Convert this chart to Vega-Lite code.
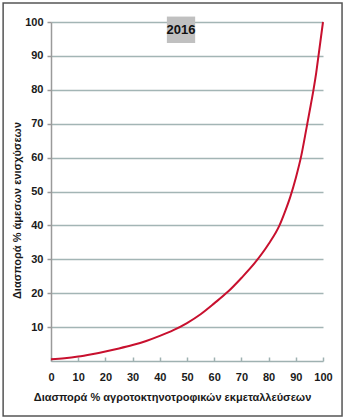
{
  "$schema": "https://vega.github.io/schema/vega-lite/v6.json",
  "width": 272,
  "height": 339,
  "autosize": {"type": "none"},
  "padding": {"left": 51, "top": 22, "right": 22, "bottom": 59},
  "background": "white",
  "config": {
    "view": {"stroke": null},
    "font": "Liberation Sans",
    "axis": {"labelOverlap": false, "labelFlush": false}
  },
  "datasets": {
    "curve": [
      {"x": 0, "y": 0.5}, {"x": 5, "y": 0.8}, {"x": 10, "y": 1.3}, {"x": 15, "y": 2.0},
      {"x": 20, "y": 2.8}, {"x": 25, "y": 3.7}, {"x": 30, "y": 4.7}, {"x": 35, "y": 5.9},
      {"x": 40, "y": 7.4}, {"x": 45, "y": 9.1}, {"x": 50, "y": 11.2}, {"x": 55, "y": 13.8},
      {"x": 60, "y": 17.0}, {"x": 65, "y": 20.4}, {"x": 70, "y": 24.5}, {"x": 75, "y": 29.0},
      {"x": 80, "y": 34.5}, {"x": 84, "y": 40.0}, {"x": 86, "y": 44.0}, {"x": 88, "y": 48.5},
      {"x": 90, "y": 54.0}, {"x": 92, "y": 60.5}, {"x": 94, "y": 69.0}, {"x": 95.5, "y": 75.5},
      {"x": 96.5, "y": 80.0}, {"x": 97.5, "y": 85.0}, {"x": 98.5, "y": 91.0}, {"x": 100, "y": 100}
    ]
  },
  "layer": [
    {
      "data": {"name": "curve"},
      "mark": {"type": "line", "color": "#c8102e", "strokeWidth": 2, "interpolate": "monotone"},
      "encoding": {
        "x": {"field": "x", "type": "quantitative", "scale": {"domain": [0, 100], "nice": false},
          "axis": {"values": [0, 10, 20, 30, 40, 50, 60, 70, 80, 90, 100], "grid": false, "domain": true, "ticks": true, "domainColor": "#9fb1b1", "domainWidth": 1.5, "tickColor": "#9fb1b1", "tickWidth": 1.5, "tickSize": -4, "labelPadding": 14, "labelOverlap": false, "labelFlush": false, "labelFontWeight": "bold", "labelFontSize": 11, "labelColor": "#1a1a1a", "title": "Διασπορά % αγροτοκτηνοτροφικών εκμεταλλεύσεων", "titleFontSize": 11, "titleFontWeight": "bold", "titleColor": "#1a1a1a", "titleBaseline": "middle", "titleX": 121, "titleY": 36}},
        "y": {"field": "y", "type": "quantitative", "scale": {"domain": [0, 100], "nice": false},
          "axis": {"values": [10, 20, 30, 40, 50, 60, 70, 80, 90, 100], "grid": true, "gridColor": "#a3b5b5", "gridWidth": 1.5, "domain": true, "domainColor": "#9a9a9a", "domainWidth": 1.5, "ticks": true, "tickColor": "#9a9a9a", "tickWidth": 1.5, "tickSize": 4, "labelPadding": 4, "labelOverlap": false, "labelFlush": false, "labelFontWeight": "bold", "labelFontSize": 11, "labelColor": "#1a1a1a", "title": "Διασπορά % άμεσων ενισχύσεων", "titleFontSize": 11, "titleFontWeight": "bold", "titleColor": "#1a1a1a", "titleBaseline": "middle", "titleX": -34, "titleY": 188}}
      }
    },
    {
      "data": {"values": [{"label": "2016"}]},
      "mark": {"type": "rect", "fill": "#c0c0c0", "clip": false},
      "encoding": {
        "x": {"datum": 42.6, "type": "quantitative", "scale": {"domain": [0, 100], "nice": false},
          "axis": {"values": [0, 10, 20, 30, 40, 50, 60, 70, 80, 90, 100], "grid": false, "domain": true, "ticks": true, "domainColor": "#9fb1b1", "domainWidth": 1.5, "tickColor": "#9fb1b1", "tickWidth": 1.5, "tickSize": -4, "labelPadding": 14, "labelOverlap": false, "labelFlush": false, "labelFontWeight": "bold", "labelFontSize": 11, "labelColor": "#1a1a1a", "title": "Διασπορά % αγροτοκτηνοτροφικών εκμεταλλεύσεων", "titleFontSize": 11, "titleFontWeight": "bold", "titleColor": "#1a1a1a", "titleBaseline": "middle", "titleX": 121, "titleY": 36}},
        "x2": {"datum": 53},
        "y": {"datum": 101.6, "type": "quantitative", "scale": {"domain": [0, 100], "nice": false},
          "axis": {"values": [10, 20, 30, 40, 50, 60, 70, 80, 90, 100], "grid": true, "gridColor": "#a3b5b5", "gridWidth": 1.5, "domain": true, "domainColor": "#9a9a9a", "domainWidth": 1.5, "ticks": true, "tickColor": "#9a9a9a", "tickWidth": 1.5, "tickSize": 4, "labelPadding": 4, "labelOverlap": false, "labelFlush": false, "labelFontWeight": "bold", "labelFontSize": 11, "labelColor": "#1a1a1a", "title": "Διασπορά % άμεσων ενισχύσεων", "titleFontSize": 11, "titleFontWeight": "bold", "titleColor": "#1a1a1a", "titleBaseline": "middle", "titleX": -34, "titleY": 188}},
        "y2": {"datum": 93.8}
      }
    },
    {
      "data": {"values": [{"label": "2016"}]},
      "mark": {"type": "text", "fontSize": 13, "fontWeight": "bold", "color": "#111111", "align": "center", "baseline": "middle"},
      "encoding": {
        "text": {"field": "label", "type": "nominal"},
        "x": {"datum": 47.8, "type": "quantitative", "scale": {"domain": [0, 100], "nice": false},
          "axis": {"values": [0, 10, 20, 30, 40, 50, 60, 70, 80, 90, 100], "grid": false, "domain": true, "ticks": true, "domainColor": "#9fb1b1", "domainWidth": 1.5, "tickColor": "#9fb1b1", "tickWidth": 1.5, "tickSize": -4, "labelPadding": 14, "labelOverlap": false, "labelFlush": false, "labelFontWeight": "bold", "labelFontSize": 11, "labelColor": "#1a1a1a", "title": "Διασπορά % αγροτοκτηνοτροφικών εκμεταλλεύσεων", "titleFontSize": 11, "titleFontWeight": "bold", "titleColor": "#1a1a1a", "titleBaseline": "middle", "titleX": 121, "titleY": 36}},
        "y": {"datum": 97.7, "type": "quantitative", "scale": {"domain": [0, 100], "nice": false},
          "axis": {"values": [10, 20, 30, 40, 50, 60, 70, 80, 90, 100], "grid": true, "gridColor": "#a3b5b5", "gridWidth": 1.5, "domain": true, "domainColor": "#9a9a9a", "domainWidth": 1.5, "ticks": true, "tickColor": "#9a9a9a", "tickWidth": 1.5, "tickSize": 4, "labelPadding": 4, "labelOverlap": false, "labelFlush": false, "labelFontWeight": "bold", "labelFontSize": 11, "labelColor": "#1a1a1a", "title": "Διασπορά % άμεσων ενισχύσεων", "titleFontSize": 11, "titleFontWeight": "bold", "titleColor": "#1a1a1a", "titleBaseline": "middle", "titleX": -34, "titleY": 188}}
      }
    },
    {
      "data": {"values": [{"label": "frame"}]},
      "mark": {"type": "rect", "fill": "transparent", "stroke": "#555555", "strokeWidth": 1.5, "clip": false},
      "encoding": {
        "x": {"datum": -17.6, "type": "quantitative", "scale": {"domain": [0, 100], "nice": false},
          "axis": {"values": [0, 10, 20, 30, 40, 50, 60, 70, 80, 90, 100], "grid": false, "domain": true, "ticks": true, "domainColor": "#9fb1b1", "domainWidth": 1.5, "tickColor": "#9fb1b1", "tickWidth": 1.5, "tickSize": -4, "labelPadding": 14, "labelOverlap": false, "labelFlush": false, "labelFontWeight": "bold", "labelFontSize": 11, "labelColor": "#1a1a1a", "title": "Διασπορά % αγροτοκτηνοτροφικών εκμεταλλεύσεων", "titleFontSize": 11, "titleFontWeight": "bold", "titleColor": "#1a1a1a", "titleBaseline": "middle", "titleX": 121, "titleY": 36}},
        "x2": {"datum": 107},
        "y": {"datum": 105.6, "type": "quantitative", "scale": {"domain": [0, 100], "nice": false},
          "axis": {"values": [10, 20, 30, 40, 50, 60, 70, 80, 90, 100], "grid": true, "gridColor": "#a3b5b5", "gridWidth": 1.5, "domain": true, "domainColor": "#9a9a9a", "domainWidth": 1.5, "ticks": true, "tickColor": "#9a9a9a", "tickWidth": 1.5, "tickSize": 4, "labelPadding": 4, "labelOverlap": false, "labelFlush": false, "labelFontWeight": "bold", "labelFontSize": 11, "labelColor": "#1a1a1a", "title": "Διασπορά % άμεσων ενισχύσεων", "titleFontSize": 11, "titleFontWeight": "bold", "titleColor": "#1a1a1a", "titleBaseline": "middle", "titleX": -34, "titleY": 188}},
        "y2": {"datum": -16.2}
      }
    }
  ]
}
